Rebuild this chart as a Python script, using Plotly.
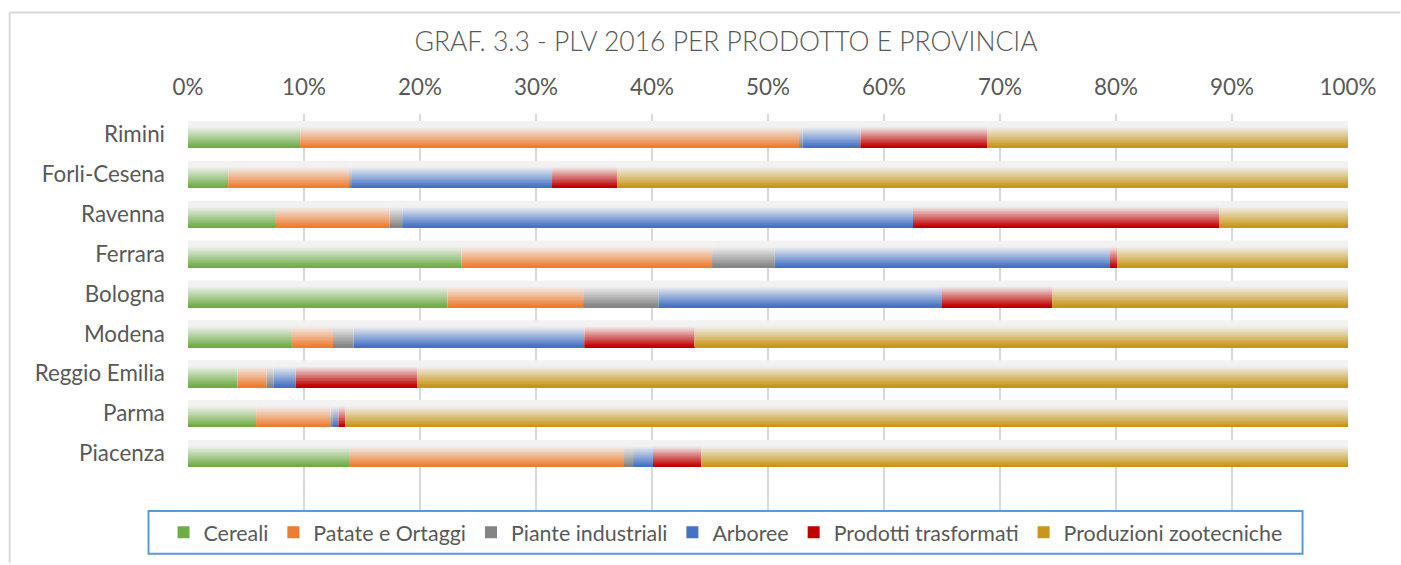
import plotly.graph_objects as go

provinces = ["Piacenza", "Parma", "Reggio Emilia", "Modena", "Bologna",
             "Ferrara", "Ravenna", "Forli-Cesena", "Rimini"]

series_names = ["Cereali", "Patate e Ortaggi", "Piante industriali",
                "Arboree", "Prodotti trasformati", "Produzioni zootecniche"]

cereali      = [13.9, 5.9, 4.3, 8.9, 22.4, 23.6, 7.5, 3.5, 9.7]
patate       = [23.7, 6.4, 2.5, 3.6, 11.7, 21.6, 9.9, 10.4, 43.0]
piante       = [0.8, 0.2, 0.6, 1.8, 6.5, 5.4, 1.1, 0.2, 0.3]
arboree      = [1.7, 0.5, 1.9, 19.9, 24.4, 28.9, 44.0, 17.3, 5.0]
trasformati  = [4.2, 0.6, 10.5, 9.5, 9.5, 0.6, 26.4, 5.6, 10.9]
zootecniche  = [55.7, 86.4, 80.2, 56.3, 25.5, 19.9, 11.1, 63.0, 31.1]

series_values = [cereali, patate, piante, arboree, trasformati, zootecniche]
series_colors = ["#70ad47", "#ed7d31", "#848484", "#4472c4", "#c00000", "#c8961a"]

tick_vals = list(range(0, 101, 10))
tick_text = [f"{v}%" for v in tick_vals]

LIGHT = (242, 242, 242)
N_BANDS = 18
BAR_W = 0.675

def hex2rgb(h):
    h = h.lstrip("#")
    return tuple(int(h[i:i + 2], 16) for i in (0, 2, 4))

def mix(c, t):
    f = min(1.0, max(0.0, (t - 0.04) / 0.74))
    r = [round(c[i] + (LIGHT[i] - c[i]) * f) for i in range(3)]
    return f"rgb({r[0]},{r[1]},{r[2]})"

fig = go.Figure()

cum = [0.0] * len(provinces)
for name, vals, col in zip(series_names, series_values, series_colors):
    rgb = hex2rgb(col)
    for k in range(N_BANDS):
        frac = (N_BANDS - k) / N_BANDS
        t = (N_BANDS - k - 0.5) / N_BANDS
        last = (k == N_BANDS - 1)
        fig.add_trace(go.Bar(
            y=provinces, x=vals, base=cum, orientation="h",
            width=BAR_W * frac, offset=-BAR_W / 2,
            marker=dict(color=col if last else mix(rgb, t), line=dict(width=0)),
            name=name, legendgroup=name, showlegend=last,
            hoverinfo="skip",
        ))
    cum = [c + v for c, v in zip(cum, vals)]

TXT = "#595959"
FONT = "Lato"
FS = 22.4

L, R, T, B = 187.5, 1348.5, 114, 512
PW, PH = R - L, B - T
def px(x):
    return (x - L) / PW
def py(y):
    return (B - y) / PH

shapes = [
    dict(type="line", xref="paper", yref="paper", x0=px(9), x1=px(1401), y0=py(12), y1=py(12),
         line=dict(color="#d9d9d9", width=2), layer="below"),
    dict(type="line", xref="paper", yref="paper", x0=px(9), x1=px(9), y0=py(12), y1=py(565),
         line=dict(color="#d9d9d9", width=2), layer="below"),
    dict(type="rect", xref="paper", yref="paper", x0=px(148), x1=px(1303), y0=py(556), y1=py(513),
         line=dict(color="#5b9bd5", width=2), fillcolor="rgba(0,0,0,0)"),
]

fig.update_layout(
    width=1401, height=565,
    margin=dict(l=L, r=1401 - R, t=T, b=565 - B, pad=0),
    paper_bgcolor="white", plot_bgcolor="white",
    barmode="overlay",
    font=dict(family=FONT, color=TXT, size=FS),
    title=dict(text="GRAF. 3.3 - PLV 2016 PER PRODOTTO E PROVINCIA",
               x=726 / 1401, xanchor="center", xref="container",
               y=1 - 42 / 565, yanchor="middle", yref="container",
               font=dict(family=FONT, size=26.5, color=TXT, weight=300)),
    xaxis=dict(side="top", range=[0, 100], tickvals=tick_vals, ticktext=tick_text,
               showgrid=True, gridcolor="#d9d9d9", gridwidth=2,
               zeroline=False, showline=False, ticks="",
               ticklabelstandoff=14, tickfont=dict(size=FS, color=TXT)),
    yaxis=dict(type="category", categoryorder="array", categoryarray=provinces,
               range=[-1.42, 8.51], showgrid=False, zeroline=False, showline=False,
               ticks="", ticklabelstandoff=22, tickfont=dict(size=FS, color=TXT)),
    legend=dict(orientation="h", x=px(725.5), xanchor="center", y=py(534.5), yanchor="middle",
                bgcolor="rgba(0,0,0,0)", borderwidth=0,
                font=dict(size=21.4, color=TXT), itemclick=False, traceorder="normal"),
    shapes=shapes,
)

fig.write_html("out.html", config={"displayModeBar": False},
               post_script="document.body.style.margin='0';document.body.style.padding='0';")
